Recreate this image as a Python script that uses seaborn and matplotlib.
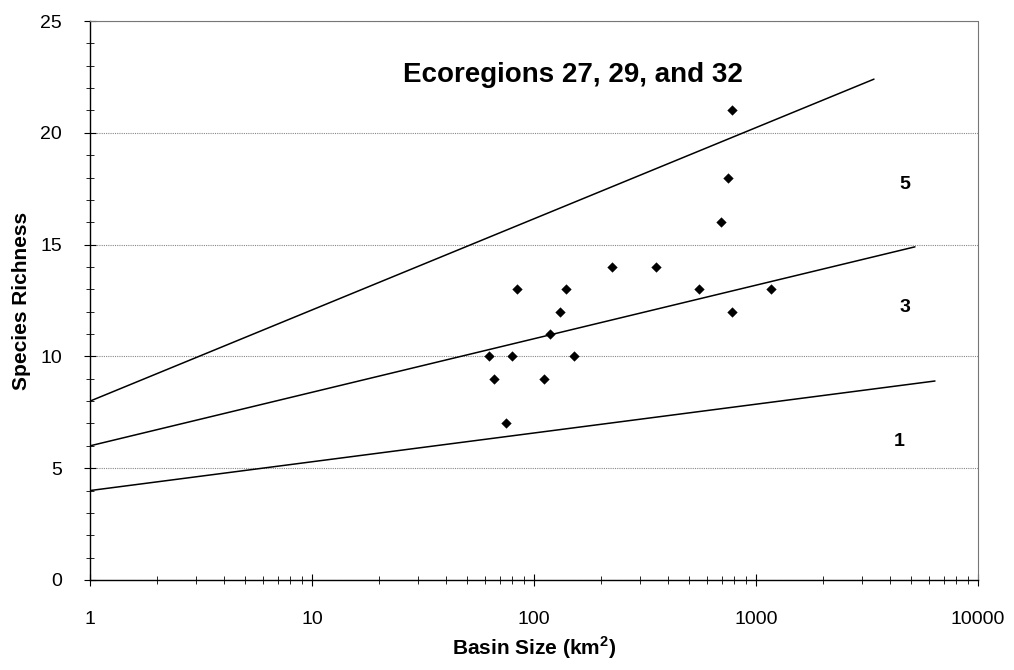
import numpy as np
import pandas as pd
import matplotlib
matplotlib.use("Agg")
import matplotlib.pyplot as plt
import matplotlib.ticker as mticker
import seaborn as sns

# ---- data ----
basin_size = [780, 750, 695, 224, 353, 84, 140, 555, 1165, 131, 782, 118,
              63, 80, 151, 66, 111, 75]
richness = [21, 18, 16, 14, 14, 13, 13, 13, 13, 12, 12, 11,
            10, 10, 10, 9, 9, 7]

line_names = ["1", "3", "5"]
line_x = [[1, 6400], [1, 5200], [1, 3400]]
line_y = [[4, 8.9], [6, 14.9], [8, 22.4]]
label_x = [4400, 4700, 4700]
label_y = [6.2, 12.2, 17.7]

title_text = "Ecoregions 27, 29, and 32"
xlabel = "Basin Size (km$^\\mathbf{2}$)"
ylabel = "Species Richness"
x_ticks = [1, 10, 100, 1000, 10000]
x_ticklabels = ["1", "10", "100", "1000", "10000"]
y_ticks = [0, 5, 10, 15, 20, 25]

sns.set_theme(style="white")
plt.rcParams['font.family'] = ['Liberation Sans', 'DejaVu Sans']
plt.rcParams['mathtext.fontset'] = 'custom'
plt.rcParams['mathtext.rm'] = 'Liberation Sans'
plt.rcParams['mathtext.bf'] = 'Liberation Sans:bold'
plt.rcParams['text.color'] = 'black'
plt.rcParams['axes.labelcolor'] = 'black'
plt.rcParams['xtick.color'] = 'black'
plt.rcParams['ytick.color'] = 'black'

fig = plt.figure(figsize=(10.14, 6.70), dpi=100)
ax = fig.add_axes([90/1014, 1-580/670, (978-90)/1014, (580-21)/670])

pts = pd.DataFrame({"x": basin_size, "y": richness})
rows = []
for n, xs, ys in zip(line_names, line_x, line_y):
    for xv, yv in zip(xs, ys):
        rows.append({"name": n, "x": xv, "y": yv})
lines = pd.DataFrame(rows)

ax.set_xscale("log")
sns.lineplot(data=lines, x="x", y="y", units="name", estimator=None,
             color="black", linewidth=1.1, ax=ax, legend=False)
sns.scatterplot(data=pts, x="x", y="y", marker="D", s=24, color="black",
                edgecolor="black", linewidth=0.3, ax=ax, legend=False, zorder=5)

for n, lx, ly in zip(line_names, label_x, label_y):
    ax.text(lx, ly, n, fontsize=14, fontweight="bold", ha="center", va="center",
            color="black")

ax.text(150, 22.6, title_text, fontsize=20, fontweight="bold",
        ha="center", va="center", color="black")

ax.set_xlim(1, 10000)
ax.set_ylim(0, 25)
ax.set_xticks(x_ticks)
ax.set_xticklabels(x_ticklabels)
ax.xaxis.set_minor_locator(mticker.LogLocator(base=10, subs=np.arange(2, 10)))
ax.xaxis.set_minor_formatter(mticker.NullFormatter())
ax.set_yticks(y_ticks)
ax.yaxis.set_minor_locator(mticker.MultipleLocator(1))

ax.yaxis.grid(True, which="major", color="#888888", linestyle=(0, (1, 1)), linewidth=0.8)
ax.xaxis.grid(False)
ax.set_axisbelow(True)

ax.tick_params(axis="both", which="major", direction="inout", length=8, width=0.8,
               labelsize=14, colors="black", left=True, bottom=True)
ax.tick_params(axis="both", which="minor", direction="inout", length=6, width=0.6,
               left=True, bottom=True, colors="black")
ax.tick_params(axis="x", which="major", pad=18)
ax.tick_params(axis="y", which="major", pad=16)

for side in ["left", "bottom"]:
    ax.spines[side].set_color("black")
    ax.spines[side].set_linewidth(1.0)
for side in ["top", "right"]:
    ax.spines[side].set_color("#777777")
    ax.spines[side].set_linestyle((0, (1, 1)))
    ax.spines[side].set_linewidth(0.8)

ax.set_xlabel(xlabel, fontsize=15, fontweight="bold", labelpad=5, color="black")
ax.set_ylabel(ylabel, fontsize=15, fontweight="bold", labelpad=7, color="black")

fig.savefig("out.png", dpi=100)
